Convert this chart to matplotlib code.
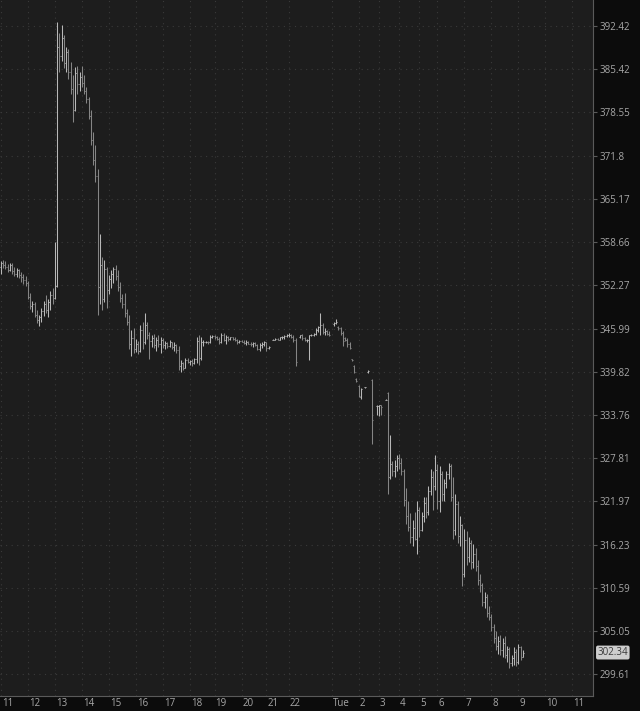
import numpy as np
import matplotlib
matplotlib.use("Agg")
import matplotlib.pyplot as plt
from matplotlib.transforms import ScaledTranslation, blended_transform_factory

nan = float("nan")

# 5-minute OHLC bars (NaN = no trade in that slot)
opens = [
    355.0, 355.5, 355.2, 354.9, 354.5, 355.2, 354.4, 354.0, 354.5, 353.8, 353.5, 353.0,
    352.6, 350.6, 349.2, 349.6, 348.0, 347.2, 347.6, 348.5, 349.6, 348.6, 349.8, 350.8,
    350.4, 352.2, 389.0, 387.5, 390.5, 386.4, 388.2, 385.0, 382.2, 379.0, 384.8, 383.0,
    384.2, 383.2, 382.0, 380.6, 378.0, 374.2, 371.2, 368.6, 352.0, 355.2, 350.2, 354.6,
    351.6, 353.2, 354.0, 354.6, 353.6, 352.0, 350.4, 349.6, 348.2, 347.0, 343.8, 344.6,
    343.0, 343.8, 342.8, 345.8, 344.0, 346.5, 345.0, 344.2, 344.6, 343.6, 344.4, 343.8,
    344.3, 343.6, 343.9, 343.5, 344.0, 343.3, 343.6, 342.9, 340.6, 341.0, 340.4, 341.5,
    341.2, 341.4, 341.0, 341.6, 344.2, 341.8, 344.0, 344.0, 344.1, 344.0, 344.8, 344.9,
    344.7, 344.5, 344.0, 345.1, 344.4, 344.8, 344.5, 344.7, 344.5, 344.3, 344.0, 344.2,
    344.1, 343.9, 344.0, 343.8, 343.7, 343.9, 343.6, 343.0, 343.6, 343.8, 344.0, 343.2,
    nan, 344.4, 344.4, 344.5, 344.4, 344.7, 344.8, 344.9, 345.0, 345.1, 344.8, 344.4,
    nan, 344.8, 345.0, 344.6, 344.3, 344.4, 345.0, 345.0, 345.2, 345.8, 346.2, 346.5,
    345.5, 345.6, 345.2, nan, 346.6, 346.8, 346.2, 346.0, 345.3, 344.6, 344.4, 343.8,
    341.6, 340.6, 338.8, 337.8, 336.2, nan, 337.6, 339.8, nan, 338.7, nan, 335.0,
    335.0, 335.1, nan, 335.9, 336.8, 325.2, 327.0, 326.0, 326.8, 327.8, 327.2, 326.0,
    322.2, 320.0, 318.6, 317.2, 318.4, 317.0, 320.8, 318.2, 320.0, 321.8, 320.6, 323.4,
    325.2, 324.0, 326.2, 322.0, 325.6, 323.0, 324.4, 325.6, 326.8, 322.6, 318.2, 321.6,
    317.4, 318.8, 312.4, 316.8, 314.6, 316.4, 314.0, 315.0, 313.4, 311.6, 311.0, 308.8,
    309.4, 307.4, 306.9, 305.6, 304.2, 303.2, 303.8, 302.6, 303.6, 302.0, 302.8, 301.0,
    301.6, 302.4, 301.2, 303.0, 301.8,
]
highs = [
    355.8, 356.0, 355.9, 355.4, 355.6, 355.5, 354.9, 354.8, 354.7, 354.2, 354.0, 353.6,
    352.9, 351.2, 350.0, 349.8, 348.6, 348.0, 348.9, 350.0, 350.8, 350.2, 351.5, 351.9,
    358.7, 393.1, 391.3, 392.6, 391.0, 389.0, 388.6, 386.5, 384.5, 385.8, 386.0, 385.0,
    386.0, 384.5, 382.5, 381.0, 379.0, 375.5, 373.5, 369.7, 359.9, 356.5, 356.0, 355.0,
    353.8, 354.5, 355.0, 355.3, 354.5, 352.7, 351.0, 351.2, 348.8, 348.0, 345.8, 346.0,
    344.5, 344.2, 346.5, 347.0, 348.3, 347.0, 345.5, 345.0, 345.2, 344.8, 345.0, 344.8,
    344.6, 344.2, 344.1, 344.3, 344.1, 344.0, 343.8, 343.5, 341.5, 341.2, 341.8, 341.8,
    341.5, 341.6, 341.8, 344.8, 345.0, 344.8, 344.3, 344.2, 344.2, 345.0, 345.0, 345.1,
    344.9, 344.7, 345.3, 345.3, 345.0, 344.9, 344.8, 344.8, 344.7, 344.5, 344.4, 344.4,
    344.3, 344.3, 344.2, 344.0, 344.0, 344.1, 343.8, 343.9, 344.0, 344.2, 344.1, 343.5,
    nan, 344.5, 344.6, 344.6, 344.8, 344.9, 345.0, 345.2, 345.3, 345.2, 345.0, 344.6,
    nan, 345.1, 345.2, 344.8, 344.5, 345.0, 345.2, 345.3, 346.0, 346.4, 348.2, 346.8,
    346.0, 345.8, 345.6, nan, 347.0, 347.3, 346.4, 346.2, 345.6, 344.8, 344.6, 344.0,
    341.6, 340.8, 339.0, 337.9, 337.5, nan, 337.7, 340.0, nan, 338.8, nan, 335.2,
    335.2, 335.2, nan, 336.0, 336.9, 331.0, 327.4, 327.5, 328.2, 328.4, 327.8, 326.3,
    323.8, 322.0, 320.4, 319.5, 320.6, 322.0, 321.2, 320.5, 322.6, 322.5, 324.0, 326.3,
    326.0, 328.3, 327.0, 326.7, 326.0, 325.0, 326.0, 327.2, 327.0, 325.3, 323.0, 322.0,
    320.0, 319.0, 318.3, 318.0, 317.2, 316.8, 316.3, 315.8, 314.2, 312.4, 311.2, 310.0,
    309.8, 308.2, 307.2, 306.0, 305.0, 304.4, 304.6, 304.2, 304.4, 303.2, 303.0, 302.0,
    303.0, 302.8, 303.4, 303.2, 302.6,
]
lows = [
    354.0, 354.8, 354.6, 354.2, 354.3, 354.0, 353.6, 353.5, 353.4, 352.8, 352.5, 352.2,
    350.2, 348.8, 348.4, 347.6, 346.8, 346.4, 347.0, 347.8, 348.2, 347.6, 348.6, 349.5,
    350.2, 352.0, 385.0, 386.8, 385.6, 385.0, 383.8, 381.5, 377.0, 378.8, 381.5, 382.0,
    382.5, 381.5, 380.0, 377.5, 373.5, 370.4, 367.8, 347.9, 349.5, 348.6, 349.8, 349.0,
    351.0, 351.8, 352.6, 353.0, 351.5, 349.8, 349.0, 347.6, 346.5, 343.0, 342.0, 342.5,
    342.6, 342.4, 342.6, 343.0, 343.8, 344.5, 341.6, 343.4, 343.2, 342.8, 343.4, 342.5,
    343.2, 343.0, 343.2, 343.4, 343.0, 342.8, 342.5, 340.0, 339.8, 340.0, 340.3, 341.0,
    340.8, 340.7, 340.9, 341.0, 340.8, 341.5, 343.5, 343.9, 343.8, 343.9, 344.6, 344.5,
    344.3, 343.8, 343.9, 344.2, 343.8, 344.2, 344.4, 344.4, 344.2, 343.8, 343.9, 344.0,
    343.7, 343.6, 343.7, 343.5, 343.4, 343.5, 342.9, 342.8, 343.2, 343.5, 342.8, 343.0,
    nan, 344.3, 344.3, 344.3, 344.3, 344.5, 344.5, 344.7, 344.8, 344.6, 344.0, 340.7,
    nan, 344.6, 344.4, 344.2, 344.0, 341.5, 344.9, 344.9, 345.1, 345.5, 345.0, 345.2,
    345.0, 345.0, 344.9, nan, 346.4, 346.6, 345.8, 345.0, 343.5, 344.2, 343.4, 343.0,
    341.4, 339.6, 338.4, 336.2, 336.0, nan, 337.5, 339.7, nan, 329.8, nan, 333.8,
    333.6, 333.8, nan, 335.8, 322.9, 325.0, 325.4, 325.2, 326.0, 326.4, 325.5, 321.3,
    319.0, 318.0, 316.5, 316.0, 316.8, 315.0, 317.2, 318.0, 319.2, 319.8, 320.2, 322.8,
    320.8, 323.5, 321.0, 320.6, 322.0, 322.0, 323.8, 325.0, 322.0, 317.0, 317.5, 316.5,
    316.0, 310.8, 312.0, 313.6, 314.0, 313.0, 313.2, 312.8, 311.0, 310.0, 308.2, 308.0,
    306.8, 306.4, 305.0, 303.6, 302.6, 302.2, 302.0, 301.8, 301.6, 301.2, 300.4, 300.6,
    300.8, 300.6, 300.9, 301.4, 301.8,
]
closes = [
    355.5, 355.2, 354.9, 354.5, 355.2, 354.4, 354.0, 354.5, 353.8, 353.5, 353.0, 352.6,
    350.6, 349.2, 349.6, 348.0, 347.2, 347.6, 348.5, 349.6, 348.6, 349.8, 350.8, 350.4,
    352.2, 389.0, 387.5, 390.5, 386.4, 388.2, 385.0, 382.2, 379.0, 384.8, 383.0, 384.2,
    383.2, 382.0, 380.6, 378.0, 374.2, 371.2, 368.6, 352.0, 355.2, 350.2, 354.6, 351.6,
    353.2, 354.0, 354.6, 353.6, 352.0, 350.4, 349.6, 348.2, 347.0, 343.8, 344.6, 343.0,
    343.8, 342.8, 345.8, 344.0, 346.5, 345.0, 344.2, 344.6, 343.6, 344.4, 343.8, 344.3,
    343.6, 343.9, 343.5, 344.0, 343.3, 343.6, 342.9, 340.6, 341.0, 340.4, 341.5, 341.2,
    341.4, 341.0, 341.6, 344.2, 341.8, 344.0, 344.0, 344.1, 344.0, 344.8, 344.9, 344.7,
    344.5, 344.0, 345.1, 344.4, 344.8, 344.5, 344.7, 344.5, 344.3, 344.0, 344.2, 344.1,
    343.9, 344.0, 343.8, 343.7, 343.9, 343.6, 343.0, 343.6, 343.8, 344.0, 343.2, 343.3,
    nan, 344.4, 344.5, 344.4, 344.7, 344.8, 344.9, 345.0, 345.1, 344.8, 344.4, 341.2,
    nan, 345.0, 344.6, 344.3, 344.4, 345.0, 345.0, 345.2, 345.8, 346.2, 346.5, 345.5,
    345.6, 345.2, 345.0, nan, 346.8, 347.0, 346.0, 345.3, 344.2, 344.4, 343.8, 343.2,
    341.5, 339.8, 338.5, 336.4, 337.4, nan, 337.6, 339.9, nan, 333.0, nan, 335.0,
    335.1, 334.9, nan, 335.9, 325.2, 327.0, 326.0, 326.8, 327.8, 327.2, 326.0, 322.2,
    320.0, 318.6, 317.2, 318.4, 317.0, 320.8, 318.2, 320.0, 321.8, 320.6, 323.4, 325.2,
    324.0, 326.2, 322.0, 325.6, 323.0, 324.4, 325.6, 326.8, 322.6, 318.2, 321.6, 317.4,
    318.8, 312.4, 316.8, 314.6, 316.4, 314.0, 315.0, 313.4, 311.6, 311.0, 308.8, 309.4,
    307.4, 306.9, 305.6, 304.2, 303.2, 303.8, 302.6, 303.6, 302.0, 302.8, 301.0, 301.6,
    302.4, 301.2, 303.0, 301.8, 302.34,
]

price_ticks = [299.61, 305.05, 310.59, 316.23, 321.97, 327.81, 333.76, 339.82,
               345.99, 352.27, 358.66, 365.17, 371.8, 378.55, 385.42, 392.42]
time_ticks = [0, 12, 24, 36, 48, 60, 72, 84, 95, 107, 118, 128,
              147, 159, 168, 177, 186, 194, 206, 218, 230, 242, 254]
time_labels = ["11", "12", "13", "14", "15", "16", "17", "18", "19", "20", "21", "22",
               "Tue", "2", "3", "4", "5", "6", "7", "8", "9", "10", "11"]
last_price = 302.34

plt.rcParams["font.family"] = ["Open Sans", "DejaVu Sans"]

o = np.array(opens)
h = np.array(highs)
l = np.array(lows)
c = np.array(closes)
x = np.arange(len(c))
m = ~np.isnan(c)

fig = plt.figure(figsize=(6.4, 7.11), dpi=100, facecolor="#0c0c0c")
ax = fig.add_axes([0, 15 / 711, 593 / 640, 696 / 711])
ax.set_facecolor("#1d1d1d")

cols = np.where(c[m] >= o[m], "#b8b8b8", "#858585")
ax.vlines(x[m], l[m], h[m], colors=cols, linewidth=0.75)
ax.hlines(o[m], x[m] - 0.45, x[m], colors=cols, linewidth=0.75)
ax.hlines(c[m], x[m], x[m] + 0.45, colors=cols, linewidth=0.75)

ax.set_yscale("log")
ax.set_ylim(296.92, 396.68)
ax.set_xlim(-0.4, 263.2)
ax.yaxis.tick_right()
ax.set_yticks(price_ticks)
ax.set_yticklabels([f"{v:g}" for v in price_ticks])
ax.yaxis.set_minor_locator(matplotlib.ticker.NullLocator())
ax.tick_params(axis="y", colors="#5a5a5a", labelcolor="#a8a8a8", labelsize=7,
               length=3, pad=2)

ax.set_xticks(time_ticks)
ax.set_xticklabels([])
ax.tick_params(axis="x", length=0)

ax.grid(True, color="#3a3a3a", linestyle=(0, (1, 4)), linewidth=0.8)
for s in ["top", "left"]:
    ax.spines[s].set_visible(False)
for s in ["right", "bottom"]:
    ax.spines[s].set_color("#5a5a5a")

# hour labels sit just right of their gridline
tr = blended_transform_factory(ax.transData, ax.transAxes) + \
    ScaledTranslation(1.0 / 100, -7.5 / 100, fig.dpi_scale_trans)
for pos, lab in zip(time_ticks, time_labels):
    ax.text(pos, 0, lab, transform=tr, ha="left", va="center",
            fontsize=7, color="#a8a8a8", clip_on=False)

# last price tag
tr2 = blended_transform_factory(ax.transAxes, ax.transData) + \
    ScaledTranslation(4.5 / 100, 0, fig.dpi_scale_trans)
ax.text(1.0, last_price, f"{last_price:.2f}", transform=tr2, ha="left", va="center",
        fontsize=7, color="#3a3a3a", clip_on=False,
        bbox=dict(boxstyle="round,pad=0.15,rounding_size=0.2", fc="#cdcdcd", ec="none"))

fig.savefig("out.png", dpi=100, facecolor=fig.get_facecolor())
